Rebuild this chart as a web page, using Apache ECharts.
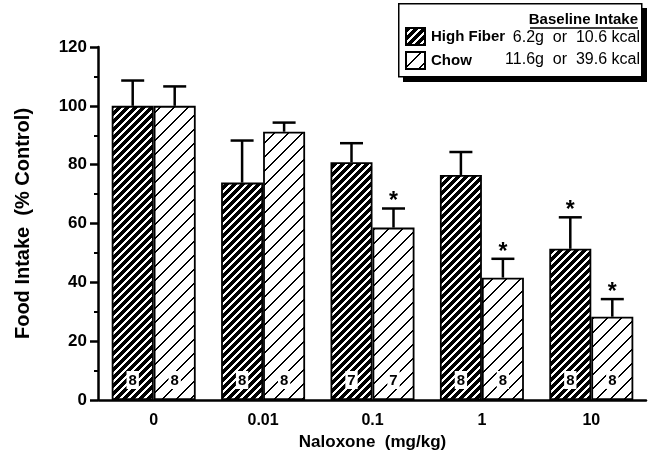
<!DOCTYPE html>
<html>
<head>
<meta charset="utf-8">
<script src="https://cdn.jsdelivr.net/npm/echarts@6/dist/echarts.min.js"></script>
<style>
html,body{margin:0;padding:0;background:#fff;}
#c{width:648px;height:456px;}
</style>
</head>
<body>
<div id="c"></div>
<script>
// ---- data ----
const categories = ['0', '0.01', '0.1', '1', '10'];
const seriesNames = ['High Fiber', 'Chow'];
const highFiber = [100, 73.9, 80.8, 76.5, 51.4];
const highFiberErrTop = [108.6, 88.2, 87.3, 84.3, 62.1];
const chow = [100, 91.2, 58.6, 41.6, 28.3];
const chowErrTop = [106.6, 94.3, 65.1, 48.0, 34.3];
const highFiberN = [8, 8, 7, 8, 8];
const chowN = [8, 8, 7, 8, 8];
const highFiberSig = [false, false, false, false, true];
const chowSig = [false, false, true, true, true];
const yTicks = [0, 20, 40, 60, 80, 100, 120];
const baselineTitle = 'Baseline Intake';
const baselineHF = '6.2g  or  10.6 kcal';
const baselineChow = '11.6g  or  39.6 kcal';

const FONT = '"Liberation Sans", Arial, Helvetica, sans-serif';

// crisp pixel hatch: "/" diagonal stripes
function hatch(size, k) {
  const c = document.createElement('canvas');
  c.width = size; c.height = size;
  const ctx = c.getContext('2d');
  ctx.fillStyle = '#fff'; ctx.fillRect(0, 0, size, size);
  ctx.fillStyle = '#000';
  for (let y = 0; y < size; y++) {
    for (let x = 0; x < size; x++) {
      if (((x + y) % size) < k) ctx.fillRect(x, y, 1, 1);
    }
  }
  return c;
}
const darkPat = { image: hatch(8, 5), repeat: 'repeat' };
const lightPat = { image: hatch(14, 2), repeat: 'repeat' };

const BW = 42;

function errSeries(name, vals, tops, sig, side) {
  return {
    type: 'custom',
    name: name + ' err',
    z: 5,
    silent: true,
    data: vals.map((v, i) => [i, v, tops[i], sig[i] ? 1 : 0]),
    renderItem: function (params, api) {
      const i = api.value(0);
      const p0 = api.coord([i, api.value(1)]);
      const p1 = api.coord([i, api.value(2)]);
      const x = p0[0] + side * BW / 2;
      const cap = 11.5;
      const children = [
        { type: 'line', shape: { x1: x, y1: p0[1], x2: x, y2: p1[1] }, style: { stroke: '#000', lineWidth: 2.5 } },
        { type: 'line', shape: { x1: x - cap, y1: p1[1], x2: x + cap, y2: p1[1] }, style: { stroke: '#000', lineWidth: 2.5 } }
      ];
      if (api.value(3)) {
        children.push({ type: 'text', x: x, y: p1[1] + 5, style: { text: '*', font: 'bold 23px ' + FONT, fill: '#000', align: 'center', verticalAlign: 'bottom' } });
      }
      return { type: 'group', children: children };
    }
  };
}

function barSeries(name, vals, pat, ns) {
  return {
    type: 'bar',
    name: name,
    data: vals,
    barWidth: BW,
    barGap: '0%',
    itemStyle: { color: pat, borderColor: '#000', borderWidth: 1.8 },
    label: {
      show: true,
      position: 'insideBottom',
      distance: 11,
      formatter: (p) => String(ns[p.dataIndex]),
      color: '#000',
      fontFamily: FONT,
      fontWeight: 'bold',
      fontSize: 15,
      backgroundColor: '#fff',
      padding: [2, 2, 1, 2]
    }
  };
}

const chart = echarts.init(document.getElementById('c'), null, { renderer: 'canvas' });
chart.setOption({
  animation: false,
  backgroundColor: '#fff',
  textStyle: { fontFamily: FONT },
  grid: { left: 99, right: 2, top: 47, bottom: 56 },
  legend: {
    data: seriesNames,
    orient: 'vertical',
    left: 400,
    top: 22,
    itemWidth: 19,
    itemHeight: 17,
    itemGap: 5,
    icon: 'rect',
    textStyle: { fontFamily: FONT, fontWeight: 'bold', fontSize: 15, color: '#000', padding: [0, 0, 0, 1] },
    z: 20
  },
  xAxis: {
    type: 'category',
    data: categories,
    axisLine: { lineStyle: { color: '#000', width: 2.5 } },
    axisTick: { show: false },
    axisLabel: { color: '#000', fontFamily: FONT, fontWeight: 'bold', fontSize: 16, margin: 13 },
    name: 'Naloxone  (mg/kg)',
    nameLocation: 'middle',
    nameGap: 32,
    nameTextStyle: { color: '#000', fontFamily: FONT, fontWeight: 'bold', fontSize: 17 }
  },
  yAxis: {
    type: 'value',
    min: 0, max: 120, interval: 20,
    offset: 1,
    axisLine: { show: true, lineStyle: { color: '#000', width: 2.5 } },
    axisTick: { show: true, length: 8, lineStyle: { color: '#000', width: 2.5 } },
    minorTick: { show: true, splitNumber: 2, length: 4, lineStyle: { color: '#000', width: 2 } },
    splitLine: { show: false },
    axisLabel: { color: '#000', fontFamily: FONT, fontWeight: 'bold', fontSize: 17, margin: 11,
      formatter: (v) => yTicks.indexOf(v) >= 0 ? String(v) : '' },
    name: 'Food Intake  (% Control)',
    nameLocation: 'middle',
    nameGap: 65,
    nameTextStyle: { color: '#000', fontFamily: FONT, fontWeight: 'bold', fontSize: 20 }
  },
  graphic: [
    { type: 'rect', left: 403, top: 8, shape: { width: 244, height: 74 }, style: { fill: '#000' }, z: 10 },
    { type: 'rect', left: 398, top: 3, shape: { width: 243, height: 73 }, style: { fill: '#fff', stroke: '#000', lineWidth: 1.5 }, z: 11 },
    { type: 'text', right: 10, top: 12, style: { text: baselineTitle, font: 'bold 15px ' + FONT, fill: '#000' }, z: 12 },
    { type: 'line', shape: { x1: 530, y1: 28, x2: 638, y2: 28 }, style: { stroke: '#000', lineWidth: 1.5 }, z: 12 },
    { type: 'text', right: 8, top: 30, style: { text: baselineHF, font: '16px ' + FONT, fill: '#000' }, z: 12 },
    { type: 'text', right: 8, top: 52, style: { text: baselineChow, font: '16px ' + FONT, fill: '#000' }, z: 12 }
  ],
  series: [
    barSeries(seriesNames[0], highFiber, darkPat, highFiberN),
    barSeries(seriesNames[1], chow, lightPat, chowN),
    errSeries(seriesNames[0], highFiber, highFiberErrTop, highFiberSig, -1),
    errSeries(seriesNames[1], chow, chowErrTop, chowSig, 1)
  ]
});
</script>
</body>
</html>
